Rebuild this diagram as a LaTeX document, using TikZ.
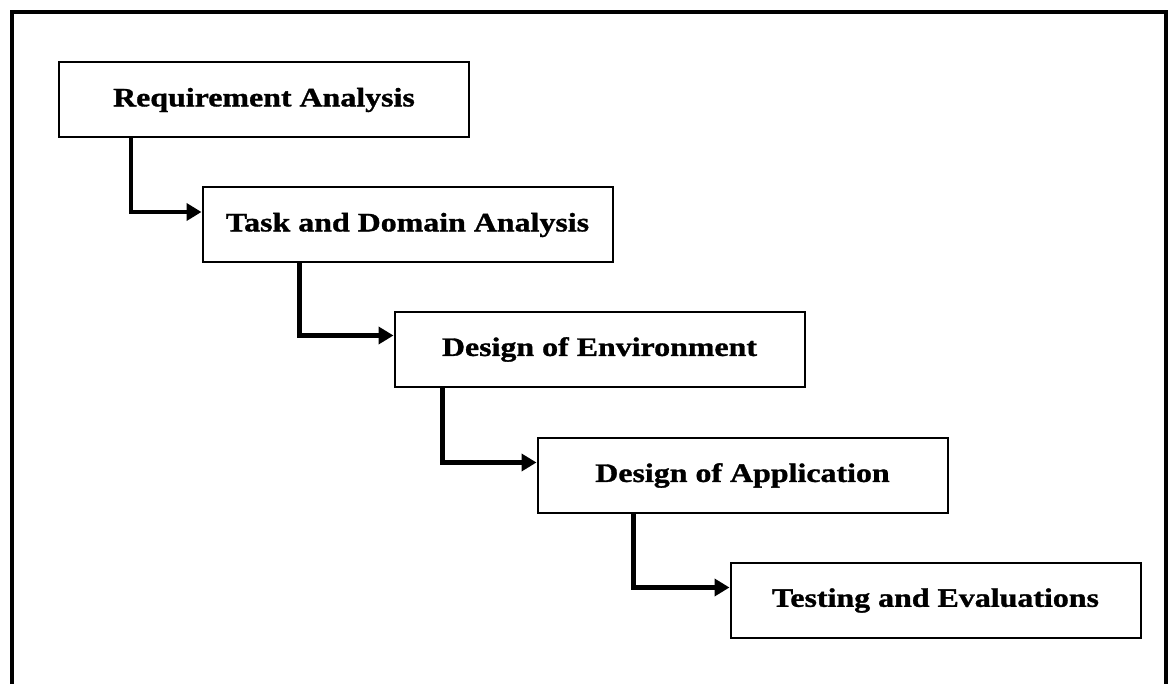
\documentclass[tikz,border=0pt]{standalone}
\usepackage{fontspec}
\setmainfont{Liberation Serif}[FakeStretch=1.2, BoldFeatures={FakeBold=1.2}]
\usetikzlibrary{arrows.meta}

\begin{document}
\begin{tikzpicture}[
  x=0.5pt, y=-0.5pt,
  phase/.style={draw, line width=1pt, minimum width=205pt, minimum height=37.5pt,
    inner sep=0pt, font=\bfseries\fontsize{13.3}{15}\selectfont},
  flow/.style={line width=2.3pt, -{Triangle[length=7.5pt, width=8.5pt]}},
  frame/.style={line width=2pt},
]
  \useasboundingbox (0,0) rectangle (1169,684);
  \clip (0,0) rectangle (1169,684);

  % outer frame, open at the bottom of the page
  \draw[frame] (12,720) -- (12,12.5) -- (1166,12.5) -- (1166,720);

  % phases
  \node[phase] (req)  at (264,100)   {Requirement Analysis};
  \node[phase] (task) at (407.5,225) {Task and Domain Analysis};
  \node[phase] (env)  at (599.5,349.5) {Design of Environment};
  \node[phase] (app)  at (742.5,475.5) {Design of Application};
  \node[phase] (test) at (935.5,600.5) {Testing and Evaluations};

  % step-down connectors
  \draw[flow] ([xshift=36.5pt]req.south west)  |- ([yshift=6.5pt]task.west);
  \draw[flow] ([xshift=49pt]task.south west)   |- ([yshift=7pt]env.west);
  \draw[flow] ([xshift=24.5pt]env.south west)  |- ([yshift=6.5pt]app.west);
  \draw[flow] ([xshift=48.5pt]app.south west)  |- ([yshift=6.5pt]test.west);
\end{tikzpicture}
\end{document}
